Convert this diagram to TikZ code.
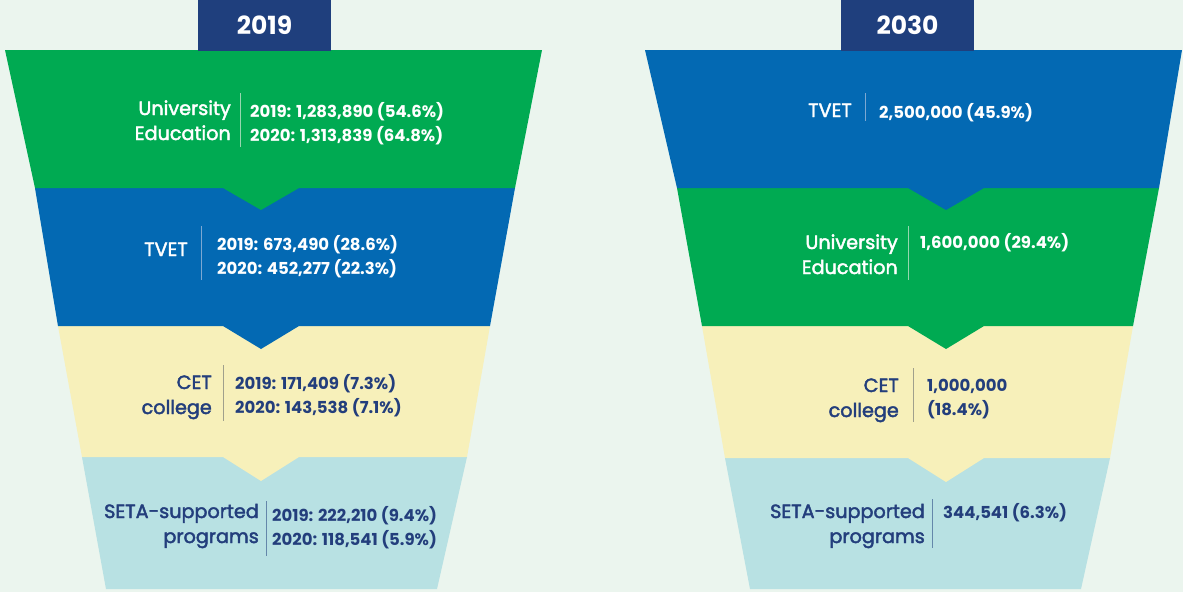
\documentclass[tikz,border=0pt]{standalone}
\usepackage{fontspec}
\setmainfont{Poppins}
\newfontfamily\lblfont{Poppins}[FakeBold=2.2]

\definecolor{bgmint}{RGB}{235,245,238}
\definecolor{navy}{RGB}{31,63,125}
\definecolor{inknavy}{RGB}{35,62,124}
\definecolor{unigreen}{RGB}{0,170,82}
\definecolor{tvetblue}{RGB}{3,105,179}
\definecolor{cetyellow}{RGB}{247,240,186}
\definecolor{setacyan}{RGB}{184,225,227}
\definecolor{rulegreen}{RGB}{150,215,175}
\definecolor{ruleblue}{RGB}{125,168,210}
\definecolor{ruleyellow}{RGB}{160,160,140}
\definecolor{rulecyan}{RGB}{100,135,170}

\begin{document}
\begin{tikzpicture}[x=1pt, y=-1pt,
    lbl/.style={anchor=base east, align=right, inner sep=0pt, font=\fontsize{19.2}{25}\selectfont\lblfont},
    val/.style={anchor=base west, align=left, inner sep=0pt, font=\fontsize{16.5}{24}\selectfont\bfseries},
    yearbox/.style={fill=navy, text=white, inner sep=0pt, minimum width=133pt, minimum height=51pt,
                    font=\fontsize{25}{30}\selectfont\bfseries}]
  \fill[bgmint] (0,0) rectangle (1183,592);
  \useasboundingbox (0,0) rectangle (1183,592);
  % ---- funnel slices: y top/bottom, x left/right at top, x left/right at bottom, notch x, notch depth ----
  % drawn from the bottom up, so each notch lies over the slice below it
  \foreach \ya/\yb/\la/\ra/\lb/\rb/\c/\d/\col in {
      457/589/82/467/106/437/261/0/setacyan,
      326/457/58/490/82/467/261/24/cetyellow,
      188/326/35/515/58/490/261/23/tvetblue,
      50/188/5/542/35/515/261/22/unigreen,
      458/589/725/1110/750/1081/946/0/setacyan,
      326/458/702/1133/725/1110/946/24/cetyellow,
      188/326/677/1159/702/1133/946/23/unigreen,
      50/188/645/1182/677/1159/946/22/tvetblue} {
    \fill[\col] (\la,\ya) -- (\ra,\ya) -- (\rb,\yb) -- (\c+38,\yb) -- (\c,\yb+\d)
                -- (\c-38,\yb) -- (\lb,\yb) -- cycle;
  }
  % ---- year tabs ----
  \node[yearbox] (tab2019) at (264.5,25.5) {2019};
  \node[yearbox] (tab2030) at (907.5,25.5) {2030};
  % ---- 2019 funnel (node positions are the baseline of the last line) ----
  \node[lbl, text=white] (uni19) at (231,140) {University\\Education};
  \node[val, text=white] (uni19v) at (250,141) {2019: 1,283,890 (54.6\%)\\2020: 1,313,839 (64.8\%)};
  \draw[rulegreen, line width=1pt] (240,93) -- (240,147);
  \node[lbl, text=white] (tvet19) at (188,256) {TVET};
  \node[val, text=white] (tvet19v) at (217,274) {2019: 673,490 (28.6\%)\\2020: 452,277 (22.3\%)};
  \draw[ruleblue, line width=1pt] (201,226) -- (201,280);
  \node[lbl, text=inknavy] (cet19) at (212,414) {CET\\college};
  \node[val, text=inknavy] (cet19v) at (235,413) {2019: 171,409 (7.3\%)\\2020: 143,538 (7.1\%)};
  \draw[ruleyellow, line width=1pt] (223,365) -- (223,421);
  \node[lbl, text=inknavy] (seta19) at (259,543) {SETA-supported\\programs};
  \node[val, text=inknavy] (seta19v) at (272,545) {2019: 222,210 (9.4\%)\\2020: 118,541 (5.9\%)};
  \draw[rulecyan, line width=1pt] (266,501) -- (266,556);
  % ---- 2030 funnel ----
  \node[lbl, text=white] (tvet30) at (852,117) {TVET};
  \node[val, text=white] (tvet30v) at (879,118) {2,500,000 (45.9\%)};
  \draw[ruleblue, line width=1pt] (865,93) -- (865,121);
  \node[lbl, text=white] (uni30) at (898,274) {University\\Education};
  \node[val, text=white] (uni30v) at (920,248) {1,600,000 (29.4\%)};
  \draw[rulegreen, line width=1pt] (908,226) -- (908,280);
  \node[lbl, text=inknavy] (cet30) at (899,417) {CET\\college};
  \node[val, text=inknavy] (cet30v) at (927,415) {1,000,000\\(18.4\%)};
  \draw[ruleyellow, line width=1pt] (913,368) -- (913,422);
  \node[lbl, text=inknavy] (seta30) at (925,543) {SETA-supported\\programs};
  \node[val, text=inknavy] (seta30v) at (943,518) {344,541 (6.3\%)};
  \draw[rulecyan, line width=1pt] (932,499) -- (932,548);
\end{tikzpicture}
\end{document}
